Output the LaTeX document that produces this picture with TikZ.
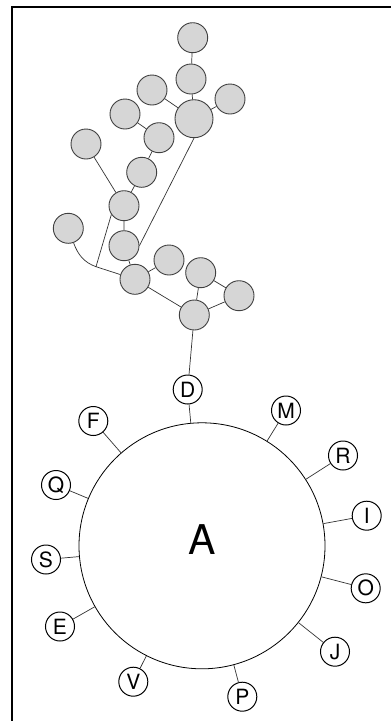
\documentclass[tikz,border=0pt]{standalone}
\usepackage{fontspec}
\setmainfont{TeX Gyre Heros}
\begin{document}
\begin{tikzpicture}[x=1pt,y=-1pt,
  hap/.style={circle,draw=black!75,line width=0.9pt,fill=black!16,minimum size=30pt,inner sep=0pt},
  bighap/.style={hap,minimum size=38pt},
  lett/.style={circle,draw=black,line width=1pt,fill=white,minimum size=29pt,inner sep=0pt,font=\fontsize{21}{21}\selectfont},
  edge/.style={draw=black!80,line width=0.7pt}]
\useasboundingbox (0,0) rectangle (391,721);
\fill[white] (0,0) rectangle (391,721);
\draw[line width=1.6pt] (12,721) -- (12,7) -- (391,7);
% gray network
\node[hap] (n1) at (192.7,37.7) {};
\node[hap] (n2) at (191,79) {};
\node[hap] (n3) at (152,90) {};
\node[bighap] (n4) at (194,118.7) {};
\node[hap] (n5) at (230,99) {};
\node[hap] (n6) at (125,114) {};
\node[hap] (n7) at (159,137.7) {};
\node[hap] (n8) at (86,144) {};
\node[hap] (n9) at (141.7,172.3) {};
\node[hap] (n10) at (124,205.7) {};
\node[hap] (n11) at (68.3,228.3) {};
\node[hap] (n12) at (124,245.7) {};
\node[hap] (n13) at (169,260) {};
\node[hap] (n14) at (135,279.3) {};
\node[hap] (n15) at (200.7,272.7) {};
\node[hap] (n16) at (239,295.7) {};
\node[hap] (n17) at (194.3,315) {};
\coordinate (j) at (96,266.7);
% big circle
\node[circle,draw=black,line width=0.8pt,fill=white,minimum size=246pt,inner sep=0pt] (A) at (202,545.8) {};
\node[font=\fontsize{41}{41}\selectfont] (Alab) at (201.7,540) {A};
% letters
\node[lett] (D) at (187.7,389.5) {D};
\node[lett] (M) at (286,410.5) {M};
\node[lett] (F) at (93.3,421) {F};
\node[lett] (R) at (343,455.5) {R};
\node[lett] (Q) at (56,485) {Q};
\node[lett] (I) at (366.7,515.7) {I};
\node[lett] (S) at (46,559.5) {S};
\node[lett] (O) at (365.7,588.3) {O};
\node[lett] (E) at (60,626.5) {E};
\node[lett] (J) at (335,651.7) {J};
\node[lett] (V) at (133.3,681.7) {V};
\node[lett] (P) at (242.3,696.7) {P};
% edges
\path[edge] (n1) -- (n2) (n2) -- (n4) (n3) -- (n4) (n5) -- (n4)
  (n6) -- (n7) (n7) -- (n9) (n9) -- (n10) (n8) -- (n10) (n10) -- (n12)
  (n4.south) -- (n12.east) (n10.215) -- (j) (j) -- (n14)
  (n12) -- (n14) (n13) -- (n14) (n14) -- (n17) (n15) -- (n17)
  (n15) -- (n16) (n16) -- (n17) (n17) -- (D);
\path[edge] (n11) to[out=-70,in=160] (j);
\foreach \x in {D,M,F,R,Q,I,S,O,E,J,V,P} {\path[edge] (\x) -- (A);}
\end{tikzpicture}
\end{document}
